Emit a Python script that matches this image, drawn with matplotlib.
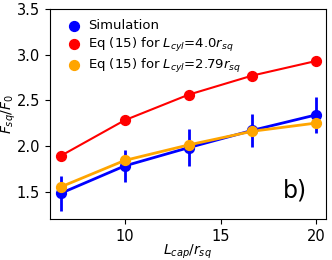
import numpy as np
import matplotlib.pyplot as plt

L_cap = np.array([20/3, 10, 40/3, 50/3, 20])
sim = np.array([1.48, 1.78, 1.98, 2.17, 2.34])
sim_err = np.array([0.19, 0.18, 0.20, 0.18, 0.20])
eq_cyl4 = np.array([1.89, 2.28, 2.56, 2.77, 2.93])
eq_cyl279 = np.array([1.55, 1.84, 2.01, 2.16, 2.25])

fig = plt.figure(figsize=(3.32, 2.60), dpi=100)
ax = fig.add_axes([0.15, 0.158, 0.832, 0.808])

ax.plot(L_cap, eq_cyl4, color='red', lw=1.5, zorder=2)
ax.scatter(L_cap, eq_cyl4, color='red', s=50, zorder=3, label='Eq (15) for $L_{cyl}$=4.0$r_{sq}$')
ax.errorbar(L_cap, sim, yerr=sim_err, color='blue', lw=2, elinewidth=2, zorder=2)
ax.scatter(L_cap, sim, color='blue', s=50, zorder=3, label='Simulation')
ax.plot(L_cap, eq_cyl279, color='orange', lw=2, zorder=2.5)
ax.scatter(L_cap, eq_cyl279, color='orange', s=50, zorder=3.5, label='Eq (15) for $L_{cyl}$=2.79$r_{sq}$')

handles, labels = ax.get_legend_handles_labels()
order = [1, 0, 2]
ax.legend([handles[i] for i in order], [labels[i] for i in order], loc='upper left',
          frameon=False, fontsize=9.5, handletextpad=0.1, borderaxespad=0.4, labelspacing=0.25)

ax.text(0.93, 0.08, 'b)', transform=ax.transAxes, fontsize=17, ha='right', va='bottom')

ax.set_ylim(1.2, 3.5)
ax.set_xlim(6.1, 20.5)
ax.set_xticks([10, 15, 20])
ax.set_yticks([1.5, 2.0, 2.5, 3.0, 3.5])
ax.tick_params(labelsize=10.5)
ax.set_xlabel('$L_{cap}/r_{sq}$', fontsize=10, labelpad=-1)
ax.set_ylabel('$F_{sq}/F_0$', fontsize=10, labelpad=-1)

fig.savefig('out.png', dpi=100)
